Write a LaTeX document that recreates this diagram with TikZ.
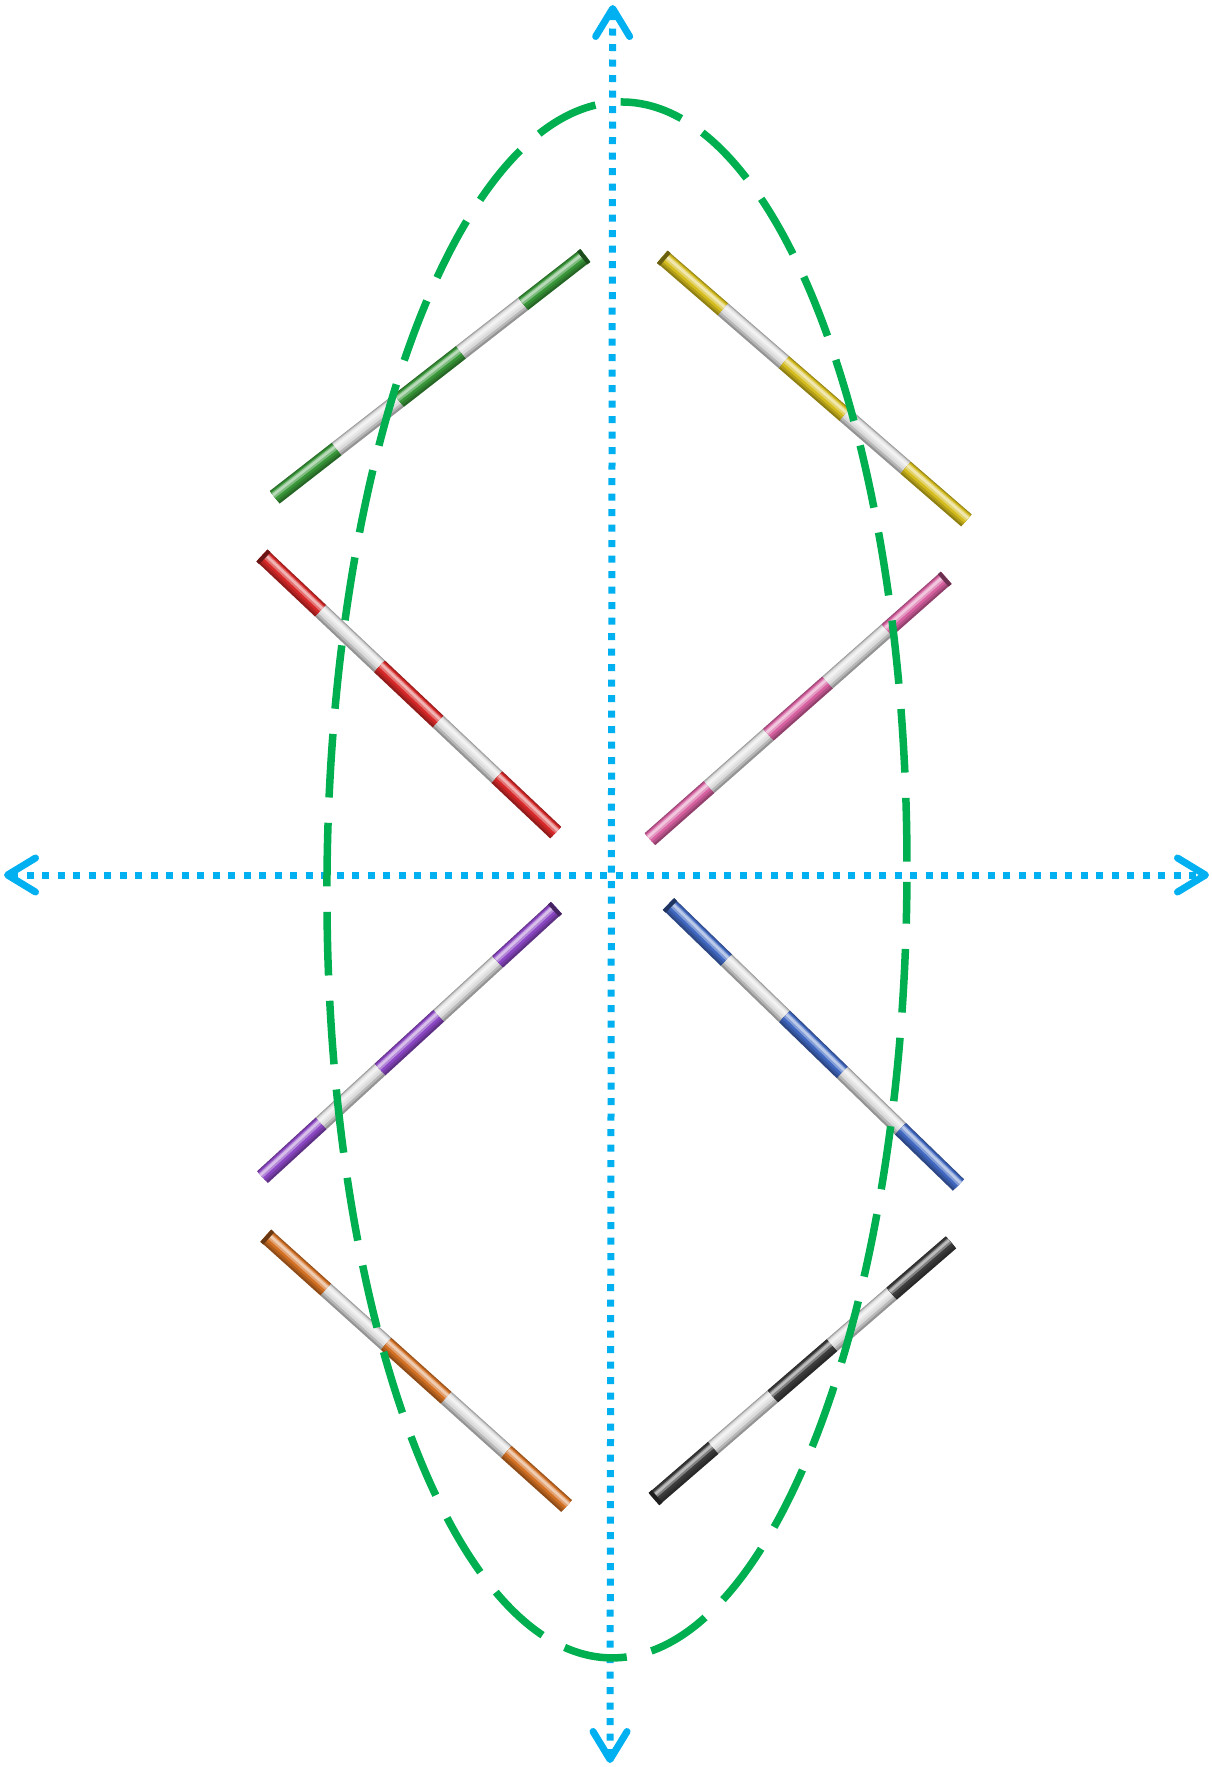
\documentclass[tikz,border=0pt]{standalone}
\usetikzlibrary{arrows.meta,calc}
\definecolor{axisblue}{RGB}{0,176,240}
\definecolor{ellgreen}{RGB}{0,176,80}
\definecolor{cgreen}{RGB}{56,150,56}
\definecolor{cyellow}{RGB}{212,188,30}
\definecolor{cred}{RGB}{214,40,40}
\definecolor{cpink}{RGB}{214,96,160}
\definecolor{cpurple}{RGB}{140,72,196}
\definecolor{cblue}{RGB}{64,104,192}
\definecolor{corange}{RGB}{210,112,36}
\definecolor{cblack}{RGB}{60,60,60}
\definecolor{cgray}{RGB}{218,218,218}
\tikzset{
  axisline/.style={axisblue, line width=7pt, dash pattern=on 7pt off 8.5pt,
    {Straight Barb[length=28pt,width=34pt,line width=7pt,round]}-{Straight Barb[length=28pt,width=34pt,line width=7pt,round]}},
  ellipseline/.style={ellgreen, line width=7.5pt, dash pattern=on 63.7pt off 25.3pt, dash phase=22pt}
}
\newcommand{\rodseg}[3]{% from, to, colour
  \foreach \w/\o/\m in {16/0/68!black, 13/0.8/84!black, 9.6/1.5/100!black, 6/2.3/65!white, 2.6/2.8/35!white}{%
    \draw[line width=\w pt, color=#3!\m] ($(#1)!\o pt!90:(#2)$) -- ($(#2)!\o pt!-90:(#1)$);
  }%
}
\newcommand{\mkrod}[6]{% name, left end, right end, colour, cap end, other end
  \coordinate (#1p1) at ($(#2)!0.2!(#3)$);
  \coordinate (#1p2) at ($(#2)!0.4!(#3)$);
  \coordinate (#1p3) at ($(#2)!0.6!(#3)$);
  \coordinate (#1p4) at ($(#2)!0.8!(#3)$);
  \rodseg{#2}{#1p1}{#4}
  \rodseg{#1p1}{#1p2}{cgray}
  \rodseg{#1p2}{#1p3}{#4}
  \rodseg{#1p3}{#1p4}{cgray}
  \rodseg{#1p4}{#3}{#4}
  \draw[line width=16.5pt, color=#4!50!black] (#5) -- ($(#5)!4pt!(#6)$);
}
\begin{document}
\begin{tikzpicture}[x=1pt,y=-1pt]
\useasboundingbox (0,0) rectangle (1212,1767);
% axes
\coordinate (vt) at (612.7,5);
\coordinate (vb) at (610,1763);
\coordinate (hl) at (4,875);
\coordinate (hr) at (1209,875);
\draw[axisline] (vb) -- (vt);
\draw[axisline] (hl) -- (hr);
% rods
\coordinate (gS) at (274.7,497.3);  \coordinate (gE) at (585.3,255.5);
\coordinate (yS) at (662.3,256.8);  \coordinate (yE) at (966.4,520.4);
\coordinate (rS) at (262,555.5);    \coordinate (rE) at (555.7,832.6);
\coordinate (pS) at (649.9,839.2);  \coordinate (pE) at (946.2,577.8);
\coordinate (uS) at (262.5,1177.1); \coordinate (uE) at (556.4,907.9);
\coordinate (bS) at (668.5,904);    \coordinate (bE) at (958.5,1185);
\coordinate (oS) at (265.8,1235.7); \coordinate (oE) at (566.6,1506);
\coordinate (kS) at (654,1499);     \coordinate (kE) at (951,1242.3);
\mkrod{g}{gS}{gE}{cgreen}{gE}{gS}
\mkrod{y}{yS}{yE}{cyellow}{yS}{yE}
\mkrod{r}{rS}{rE}{cred}{rS}{rE}
\mkrod{p}{pS}{pE}{cpink}{pE}{pS}
\mkrod{u}{uS}{uE}{cpurple}{uE}{uS}
\mkrod{b}{bS}{bE}{cblue}{bS}{bE}
\mkrod{o}{oS}{oE}{corange}{oS}{oE}
\mkrod{k}{kS}{kE}{cblack}{kS}{kE}
% ellipse
\coordinate (ec) at (617,880);
\draw[ellipseline, rotate around={-0.4:(ec)}] (ec) ellipse [x radius=290, y radius=778];
\end{tikzpicture}
\end{document}
